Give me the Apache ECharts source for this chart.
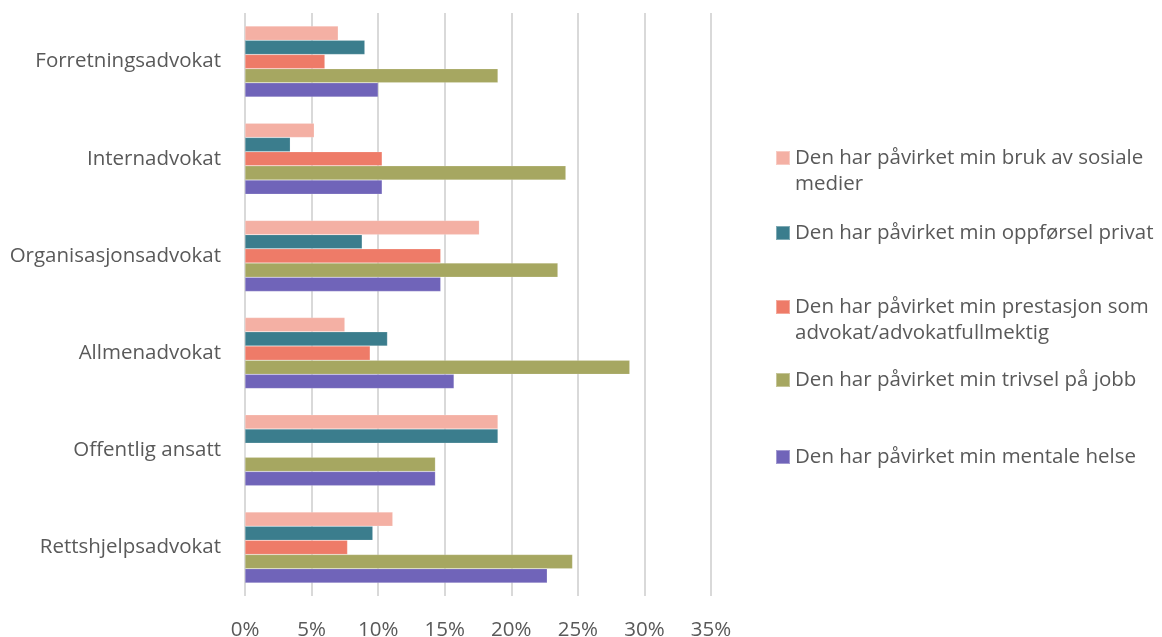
<!DOCTYPE html>
<html>
<head>
<meta charset="utf-8">
<script src="https://cdn.jsdelivr.net/npm/echarts@6/dist/echarts.min.js"></script>
<style>
  html, body { margin: 0; padding: 0; background: #fff; }
  #main { width: 1162px; height: 637px; }
</style>
</head>
<body>
<div id="main"></div>
<script>
var categories = ['Forretningsadvokat', 'Internadvokat', 'Organisasjonsadvokat', 'Allmenadvokat', 'Offentlig ansatt', 'Rettshjelpsadvokat'];

var seriesNames = [
    'Den har påvirket min bruk av sosiale medier',
    'Den har påvirket min oppførsel privat',
    'Den har påvirket min prestasjon som advokat/advokatfullmektig',
    'Den har påvirket min trivsel på jobb',
    'Den har påvirket min mentale helse'
];

// values in percent, one array per series, in category order
var sosialeMedier = [7.0, 5.2, 17.6, 7.5, 19.0, 11.1];
var oppforselPrivat = [9.0, 3.4, 8.8, 10.7, 19.0, 9.6];
var prestasjon = [6.0, 10.3, 14.7, 9.4, 0, 7.7];
var trivsel = [19.0, 24.1, 23.5, 28.9, 14.3, 24.6];
var mentaleHelse = [10.0, 10.3, 14.7, 15.7, 14.3, 22.7];

var tickValues = [0, 5, 10, 15, 20, 25, 30, 35];

var colors = ['#F4B0A4', '#3B7D8D', '#EE7B68', '#A6A761', '#7064B9'];
var seriesData = [sosialeMedier, oppforselPrivat, prestasjon, trivsel, mentaleHelse];

var fontFam = '"Open Sans", sans-serif';
var fontSz = 20.5;
var textGray = '#595959';

var myChart = echarts.init(document.getElementById('main'));

// legend labels broken the same way as in the original
var legendLabels = {};
legendLabels[seriesNames[0]] = 'Den har påvirket min bruk av sosiale\nmedier';
legendLabels[seriesNames[2]] = 'Den har påvirket min prestasjon som\nadvokat/advokatfullmektig';

// square sits at the top of a taller item so it lines up with the first text line
var squareTop = 'path://M0,0h14v14h-14z M0,40h0.01v0.01h-0.01z';

function makeLegend(name, top, twoLines) {
    return {
        data: [name],
        left: 775,
        top: top,
        padding: 0,
        itemWidth: 14,
        itemHeight: twoLines ? 40 : 14,
        itemGap: 0,
        icon: twoLines ? squareTop : 'rect',
        selectedMode: false,
        formatter: function (n) { return legendLabels[n] || n; },
        textStyle: {
            fontFamily: fontFam,
            fontSize: fontSz,
            color: textGray,
            lineHeight: 26
        }
    };
}

var series = [];
for (var i = 0; i < seriesNames.length; ++i) {
    series.push({
        name: seriesNames[i],
        type: 'bar',
        data: seriesData[i],
        barGap: 0,
        barCategoryGap: '27%',
        itemStyle: { color: colors[i], borderColor: 'rgba(255,255,255,0.35)', borderWidth: 0.5 },
        emphasis: { disabled: true },
        animation: false
    });
}

var option = {
    animation: false,
    grid: {
        left: 245,
        right: 451,
        top: 13,
        bottom: 41,
        outerBoundsMode: 'none'
    },
    legend: [
        makeLegend(seriesNames[0], 145, true),
        makeLegend(seriesNames[1], 220, false),
        makeLegend(seriesNames[2], 294, true),
        makeLegend(seriesNames[3], 367, false),
        makeLegend(seriesNames[4], 444, false)
    ],
    xAxis: {
        type: 'value',
        min: tickValues[0],
        max: tickValues[tickValues.length - 1],
        interval: 5,
        axisLine: { show: false },
        axisTick: { show: false },
        splitLine: { show: true, lineStyle: { color: '#D9D9D9', width: 2 } },
        axisLabel: {
            margin: 24,
            fontFamily: fontFam,
            fontSize: fontSz,
            color: textGray,
            formatter: '{value}%'
        }
    },
    yAxis: {
        type: 'category',
        inverse: true,
        data: categories,
        axisLine: { show: false },
        axisTick: { show: false },
        axisLabel: {
            margin: 24,
            fontFamily: fontFam,
            fontSize: fontSz,
            color: textGray
        }
    },
    series: series
};

myChart.setOption(option, true);
</script>
</body>
</html>
